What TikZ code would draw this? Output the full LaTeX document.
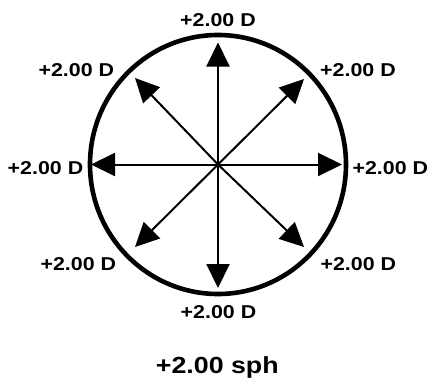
\documentclass[tikz,border=0pt]{standalone}
\usepackage{fontspec}
\setmainfont{Liberation Sans}
\usetikzlibrary{arrows.meta}
\begin{document}
\begin{tikzpicture}[x=1pt,y=-1pt,
  lbl/.style={anchor=base,inner sep=0pt,font=\fontsize{18.6}{20}\selectfont\bfseries},
  big/.style={anchor=base,inner sep=0pt,font=\fontsize{23.3}{26}\selectfont\bfseries},
  ray/.style={line width=2pt,-{Triangle[length=24pt,width=23pt]}},
  rim/.style={line width=4.6pt}]
\useasboundingbox (0,0) rectangle (428,380);
\coordinate (c) at (218,164.5);
\draw[rim] (c) ellipse [x radius=128, y radius=129.5];
\coordinate (tN) at (218,42.5);
\coordinate (tS) at (218,288);
\coordinate (tE) at (342,164.5);
\coordinate (tW) at (91,164.5);
\coordinate (tNE) at (304,79);
\coordinate (tNW) at (135,78);
\coordinate (tSE) at (304,247);
\coordinate (tSW) at (135,247);
\foreach \t in {tN,tS,tE,tW,tNE,tNW,tSE,tSW} \draw[ray] (c) -- (\t);
\node[lbl] (lN) at (218,26.7) {\scalebox{1.15}[1]{+2.00 D}};
\node[lbl] (lNW) at (76.3,76.2) {\scalebox{1.15}[1]{+2.00 D}};
\node[lbl] (lNE) at (358,76.5) {\scalebox{1.15}[1]{+2.00 D}};
\node[lbl] (lW) at (45.5,174.2) {\scalebox{1.15}[1]{+2.00 D}};
\node[lbl] (lE) at (390.3,174.2) {\scalebox{1.15}[1]{+2.00 D}};
\node[lbl] (lSW) at (78.3,270) {\scalebox{1.15}[1]{+2.00 D}};
\node[lbl] (lSE) at (358.3,270) {\scalebox{1.15}[1]{+2.00 D}};
\node[lbl] (lS) at (218.5,318.3) {\scalebox{1.15}[1]{+2.00 D}};
\node[big] (sph) at (217.3,373.3) {\scalebox{1.15}[1]{+2.00 sph}};
\end{tikzpicture}
\end{document}
